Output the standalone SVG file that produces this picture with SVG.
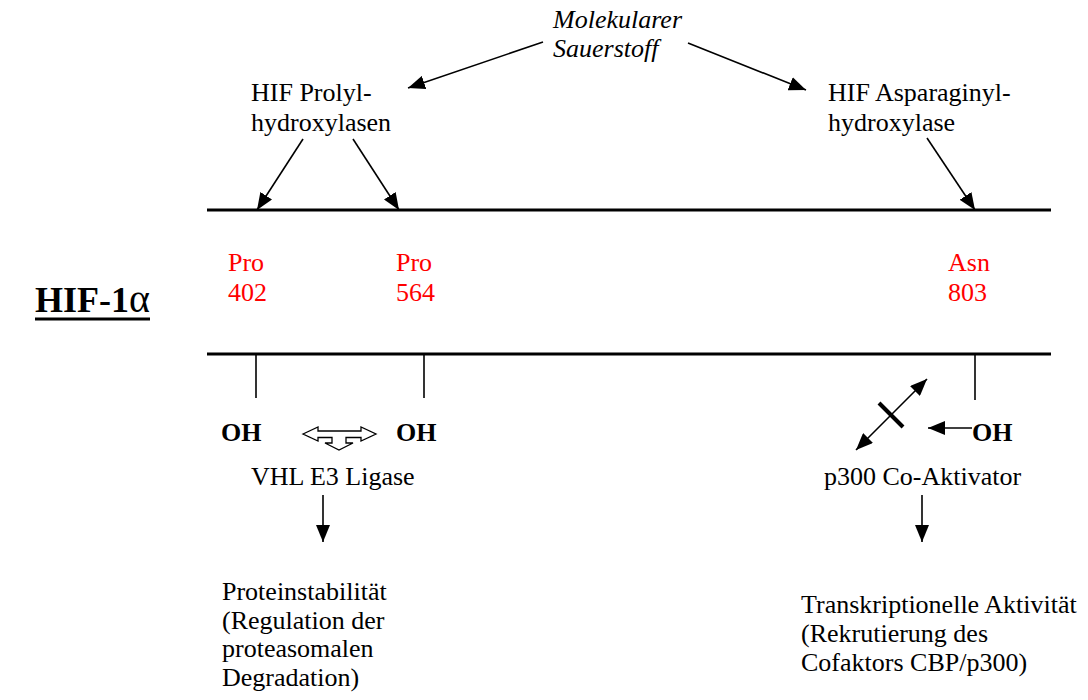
<svg xmlns="http://www.w3.org/2000/svg" width="1088" height="700" viewBox="0 0 1088 700">
<defs>
<style>
text{font-family:"Liberation Serif","Times New Roman",serif;font-size:26px;fill:#000}
.it{font-style:italic}
.red{fill:#ff0000}
.b{font-weight:bold}
.ln{stroke:#000;stroke-width:1.6;fill:none}
.axis{stroke:#000;stroke-width:3;fill:none}
.tick{stroke:#000;stroke-width:1.6}
</style>
<marker id="ahL" viewBox="0 0 10 10" refX="10" refY="5" markerWidth="17" markerHeight="14" markerUnits="userSpaceOnUse" orient="auto-start-reverse" preserveAspectRatio="none">
<path d="M0,0 L10,5 L0,10 z" fill="#000"/>
</marker>
</defs>
<rect width="1088" height="700" fill="#fff"/>

<g id="protein">
<line class="axis" x1="207" y1="210" x2="1051" y2="210"/>
<line class="axis" x1="207" y1="354" x2="1051" y2="354"/>
<line class="tick" x1="256" y1="354" x2="256" y2="398"/>
<line class="tick" x1="424" y1="354" x2="424" y2="398"/>
<line class="tick" x1="975" y1="354" x2="975" y2="400"/>
</g>

<g id="hif-label">
<text class="b" x="35" y="312" style="font-size:36px">HIF-1<tspan style="font-weight:normal;font-size:40px">α</tspan></text>
<line x1="35" y1="319" x2="150" y2="319" stroke="#000" stroke-width="3"/>
</g>

<g id="sauerstoff">
<text class="it" x="553" y="28">Molekularer</text>
<text class="it" x="553" y="57">Sauerstoff</text>
</g>

<g id="phd">
<text x="251" y="101">HIF Prolyl-</text>
<text x="251" y="131">hydroxylasen</text>
</g>

<g id="fih">
<text x="828" y="101">HIF Asparaginyl-</text>
<text x="828" y="131">hydroxylase</text>
</g>

<g id="pro402"><text class="red" x="228" y="271">Pro</text><text class="red" x="228" y="301">402</text></g>
<g id="pro564"><text class="red" x="396" y="271">Pro</text><text class="red" x="396" y="301">564</text></g>
<g id="asn803"><text class="red" x="948" y="271">Asn</text><text class="red" x="948" y="301">803</text></g>

<g id="oh1"><text class="b" x="221" y="441">OH</text></g>
<g id="oh2"><text class="b" x="396" y="441">OH</text></g>
<g id="oh3"><text class="b" x="972" y="441">OH</text></g>

<g id="vhl"><text x="251" y="485">VHL E3 Ligase</text></g>
<g id="p300"><text x="824" y="485">p300 Co-Aktivator</text></g>

<g id="instab">
<text x="222" y="600">Proteinstabilität</text>
<text x="222" y="629">(Regulation der</text>
<text x="222" y="657">proteasomalen</text>
<text x="222" y="686">Degradation)</text>
</g>

<g id="transkr">
<text x="801" y="613">Transkriptionelle Aktivität</text>
<text x="801" y="642">(Rekrutierung des</text>
<text x="801" y="671">Cofaktors CBP/p300)</text>
</g>

<g id="connectors">
<line class="ln" x1="543" y1="42" x2="408" y2="88" marker-end="url(#ahL)"/>
<line class="ln" x1="688" y1="43" x2="806" y2="90" marker-end="url(#ahL)"/>
<line class="ln" x1="303" y1="139" x2="257" y2="210" marker-end="url(#ahL)"/>
<line class="ln" x1="353" y1="139" x2="399" y2="210" marker-end="url(#ahL)"/>
<line class="ln" x1="927" y1="138" x2="975" y2="210" marker-end="url(#ahL)"/>
<line class="ln" x1="323" y1="495" x2="323" y2="542" marker-end="url(#ahL)"/>
<line class="ln" x1="922" y1="495" x2="922" y2="542" marker-end="url(#ahL)"/>
<line class="ln" x1="972" y1="428" x2="928" y2="428" marker-end="url(#ahL)"/>
<line class="ln" x1="856" y1="450" x2="927" y2="379" marker-start="url(#ahL)" marker-end="url(#ahL)"/>
<line x1="879" y1="403" x2="903" y2="427" stroke="#000" stroke-width="4"/>
<path d="M303,434 L318,427 L318,431 L361,431 L361,427 L376,434 L361,441 L361,437.5 L346,437.5 L346,443 L353,443 L339,450 L325,443 L332,443 L332,437.5 L318,437.5 L318,441 Z" fill="#fff" stroke="#000" stroke-width="1.3" stroke-linejoin="miter"/>
</g>
</svg>
